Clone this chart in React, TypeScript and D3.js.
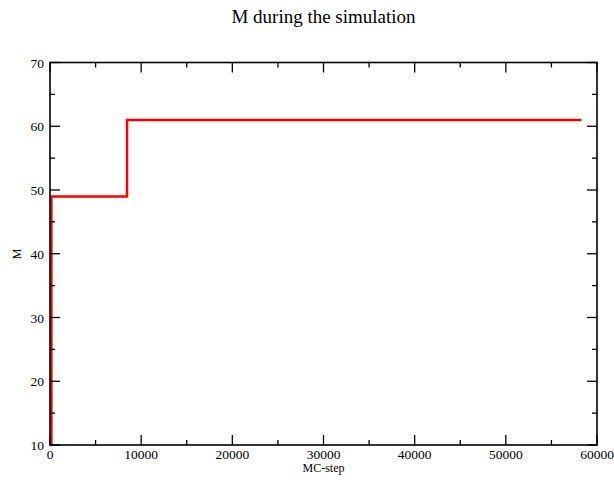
import React from "react";
import * as d3 from "d3";

const steps = [0, 150, 8450, 58300];
const mValues = [10, 49, 61, 61];
const xTicks = [0, 10000, 20000, 30000, 40000, 50000, 60000];
const yTicks = [10, 20, 30, 40, 50, 60, 70];
const title = "M during the simulation";
const xLabel = "MC-step";
const yLabel = "M";

const W = 614;
const H = 484;
const L = 50, R = 597, T = 62.5, B = 445;
const FONT = "'Liberation Serif', 'DejaVu Serif', serif";

export default function App() {
  const x = d3.scaleLinear().domain([0, 60000]).range([L, R]);
  const y = d3.scaleLinear().domain([10, 70]).range([B, T]);
  const pts = steps.map((s, i) => [s, mValues[i]] as [number, number]);
  const line = d3
    .line<[number, number]>()
    .x((d) => x(d[0]))
    .y((d) => y(d[1]))
    .curve(d3.curveStepAfter);

  const xMinor = d3.range(5000, 60000, 10000);
  const yMinor = d3.range(15, 70, 10);
  const major = 10;
  const minor = 5;

  return (
    <svg
      width={W}
      height={H}
      style={{ position: "absolute", left: 0, top: 0, background: "#fff" }}
    >
      <rect x={0} y={0} width={W} height={H} fill="#fff" />
      <text x={323.5} y={23} fontFamily={FONT} fontSize={19} textAnchor="middle" fill="#000">
        {title}
      </text>
      <path d={line(pts) || ""} fill="none" stroke="#ff0000" strokeWidth={2.5} />
      <g stroke="#000" strokeWidth={1.3}>
        {xTicks.map((t) => (
          <g key={"xt" + t}>
            <line x1={x(t)} x2={x(t)} y1={B} y2={B - major} />
            <line x1={x(t)} x2={x(t)} y1={T} y2={T + major} />
          </g>
        ))}
        {xMinor.map((t) => (
          <g key={"xm" + t}>
            <line x1={x(t)} x2={x(t)} y1={B} y2={B - minor} />
            <line x1={x(t)} x2={x(t)} y1={T} y2={T + minor} />
          </g>
        ))}
        {yTicks.map((t) => (
          <g key={"yt" + t}>
            <line x1={L} x2={L + major} y1={y(t)} y2={y(t)} />
            <line x1={R} x2={R - major} y1={y(t)} y2={y(t)} />
          </g>
        ))}
        {yMinor.map((t) => (
          <g key={"ym" + t}>
            <line x1={L} x2={L + minor} y1={y(t)} y2={y(t)} />
            <line x1={R} x2={R - minor} y1={y(t)} y2={y(t)} />
          </g>
        ))}
      </g>
      <rect x={L} y={T} width={R - L} height={B - T} fill="none" stroke="#000" strokeWidth={1.6} />
      {xTicks.map((t) => (
        <text key={"xl" + t} x={x(t)} y={459} fontFamily={FONT} fontSize={13.5} textAnchor="middle" fill="#000">
          {t}
        </text>
      ))}
      {yTicks.map((t) => (
        <text key={"yl" + t} x={44} y={y(t) + 5} fontFamily={FONT} fontSize={13.5} textAnchor="end" fill="#000">
          {t}
        </text>
      ))}
      <text x={323.5} y={471.5} fontFamily={FONT} fontSize={12} textAnchor="middle" fill="#000">
        {xLabel}
      </text>
      <text
        transform={`translate(21, 254) rotate(-90)`}
        fontFamily={FONT}
        fontSize={12}
        textAnchor="middle"
        fill="#000"
      >
        {yLabel}
      </text>
    </svg>
  );
}
